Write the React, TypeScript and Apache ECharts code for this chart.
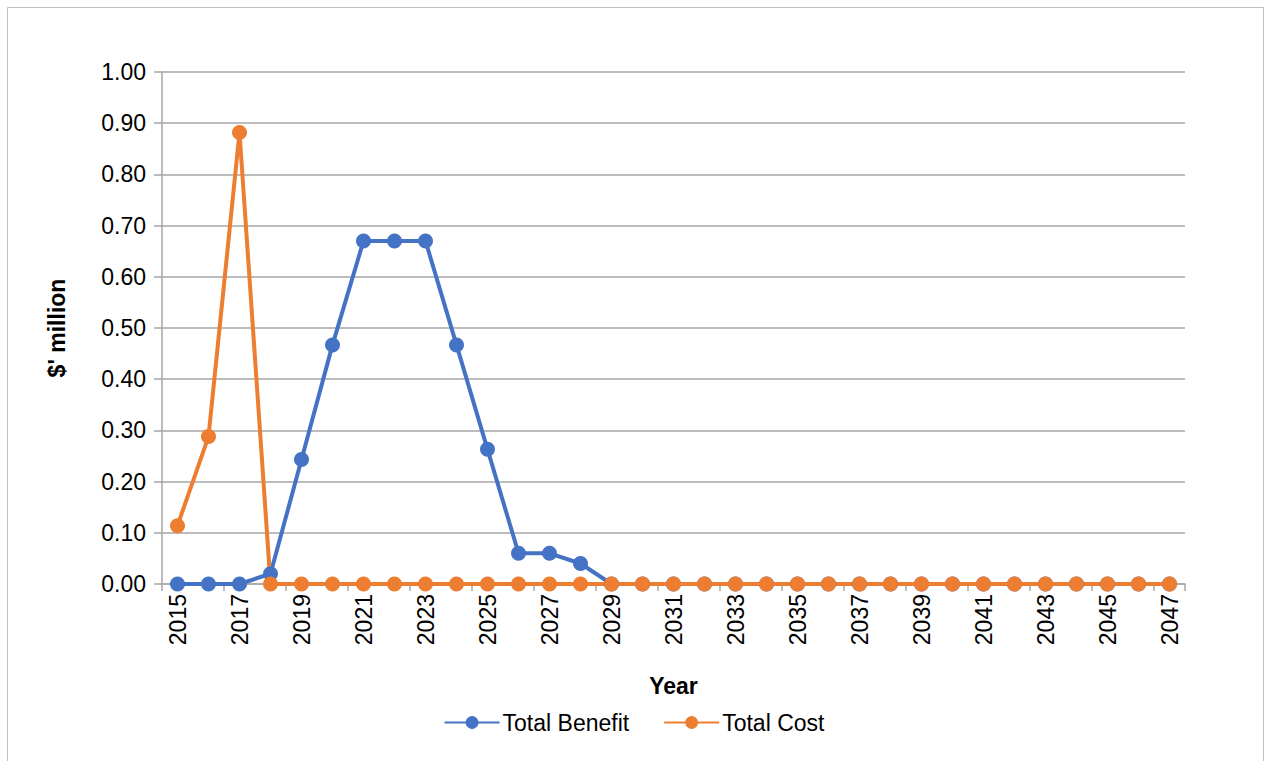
import React, { useEffect, useRef } from "react";
import * as echarts from "echarts";

const years: string[] = [];
for (let y = 2015; y <= 2047; y++) years.push(String(y));

const totalBenefit = [
  0, 0, 0, 0.02, 0.243, 0.467, 0.67, 0.67, 0.67, 0.467, 0.263, 0.06, 0.06, 0.04,
  0, 0, 0, 0, 0, 0, 0, 0, 0, 0, 0, 0, 0, 0, 0, 0, 0, 0, 0,
];
const totalCost = [
  0.114, 0.288, 0.882, 0, 0, 0, 0, 0, 0, 0, 0, 0, 0, 0, 0, 0, 0, 0, 0, 0, 0, 0,
  0, 0, 0, 0, 0, 0, 0, 0, 0, 0, 0,
];

const FONT = "'Liberation Sans', Arial, sans-serif";

export default function App() {
  const ref = useRef<HTMLDivElement>(null);
  useEffect(() => {
    if (!ref.current) return;
    const chart = echarts.init(ref.current, null, { renderer: "svg" });
    chart.setOption({
      animation: false,
      backgroundColor: "#ffffff",
      textStyle: { fontFamily: FONT },
      graphic: [
        {
          type: "rect",
          shape: { x: 7.5, y: 7.5, width: 1256, height: 800 },
          style: { fill: "none", stroke: "#bfbfbf", lineWidth: 1 },
          silent: true,
        },
      ],
      grid: { left: 162, right: 83, top: 72, bottom: 177 },
      legend: {
        bottom: 22,
        left: "center",
        itemWidth: 55,
        itemHeight: 16,
        itemGap: 34,
        textStyle: { fontSize: 23, color: "#000", fontFamily: FONT, padding: [0, 0, 0, -2] },
        data: ["Total Benefit", "Total Cost"],
      },
      xAxis: {
        type: "category",
        data: years,
        boundaryGap: true,
        name: "Year",
        nameLocation: "middle",
        nameGap: 90,
        nameTextStyle: { fontSize: 23, fontWeight: "bold", color: "#000", fontFamily: FONT },
        axisLine: { show: true, lineStyle: { color: "#a6a6a6", width: 1.5 } },
        axisTick: { show: true, interval: 1, length: 7, lineStyle: { color: "#a6a6a6", width: 1.5 } },
        axisLabel: { interval: 1, rotate: 90, fontSize: 23, color: "#000", margin: 10, fontFamily: FONT },
        splitLine: { show: false },
      },
      yAxis: {
        type: "value",
        min: 0,
        max: 1,
        interval: 0.1,
        name: "$' million",
        nameLocation: "middle",
        nameGap: 94,
        nameRotate: 90,
        nameTextStyle: { fontSize: 23, fontWeight: "bold", color: "#000", fontFamily: FONT },
        axisLine: { show: true, lineStyle: { color: "#a6a6a6", width: 1.5 } },
        axisTick: { show: true, length: 8, lineStyle: { color: "#a6a6a6", width: 1.5 } },
        axisLabel: {
          fontSize: 23,
          color: "#000",
          margin: 16,
          fontFamily: FONT,
          formatter: (v: number) => v.toFixed(2),
        },
        splitLine: { show: true, lineStyle: { color: "#a6a6a6", width: 1.5 } },
      },
      series: [
        {
          name: "Total Benefit",
          type: "line",
          data: totalBenefit,
          symbol: "circle",
          symbolSize: 15,
          lineStyle: { color: "#4472C4", width: 4 },
          itemStyle: { color: "#4472C4" },
        },
        {
          name: "Total Cost",
          type: "line",
          data: totalCost,
          symbol: "circle",
          symbolSize: 15,
          lineStyle: { color: "#ED7D31", width: 4 },
          itemStyle: { color: "#ED7D31" },
        },
      ],
    });
    return () => chart.dispose();
  }, []);
  return (
    <div
      ref={ref}
      style={{ position: "fixed", left: 0, top: 0, width: 1268, height: 761 }}
    />
  );
}
